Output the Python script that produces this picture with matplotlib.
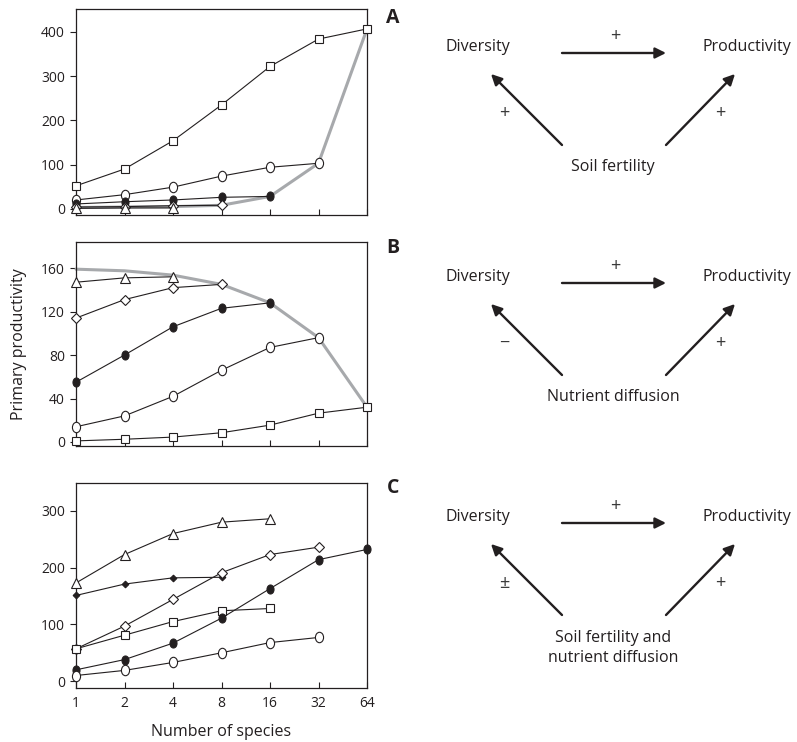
import numpy as np
import matplotlib.pyplot as plt
from matplotlib.markers import MarkerStyle
from matplotlib.transforms import Affine2D

plt.rcParams["font.family"] = ["Open Sans", "DejaVu Sans"]
INK = "#231f20"

species = [1, 2, 4, 8, 16, 32, 64]

# panel A: soil fertility gradient
a_square = [52, 90, 154, 235, 322, 384, 407]
a_open = [20, 32, 49, 74, 94, 103]
a_filled = [11, 16, 20, 26, 28]
a_diamond = [4, 5, 7, 8]
a_triangle = [1, 2, 2]
a_envelope = [3, 4, 5, 8, 28, 103, 407]

# panel B: nutrient diffusion
b_square = [1, 2.5, 4.5, 8.5, 15.5, 26.5, 32]
b_open = [14, 24, 42, 66, 87, 96]
b_filled = [55, 80, 106, 123, 128]
b_diamond = [114, 131, 142, 145]
b_triangle = [147, 151, 152]
b_envelope = [159, 157.5, 153.5, 145, 128, 96, 32]

# panel C: both processes
c_triangle = [173, 223, 260, 280, 286]
c_smalldiamond = [151, 171, 182, 183]
c_diamond = [57, 97, 144, 191, 223, 236]
c_square = [57, 81, 105, 124, 128]
c_filled = [20, 38, 67, 111, 163, 214, 232]
c_open = [10, 19, 33, 50, 68, 77]

oval = MarkerStyle("o", transform=Affine2D().scale(0.78, 1.0))
oval_f = MarkerStyle("o", transform=Affine2D().scale(0.78, 1.0))

STYLE = {
    "square": dict(marker="s", ms=5.2, mfc="white"),
    "open": dict(marker=oval, ms=7.5, mfc="white"),
    "filled": dict(marker=oval_f, ms=6.5, mfc=INK),
    "diamond": dict(marker="D", ms=4.6, mfc="white"),
    "triangle": dict(marker="^", ms=7.5, mfc="white"),
    "smalldiamond": dict(marker="D", ms=3.4, mfc=INK),
}

W, H = 797, 742
fig = plt.figure(figsize=(W / 100, H / 100), dpi=100)


def px_axes(top, bottom, left=76, right=367):
    return fig.add_axes([left / W, 1 - bottom / H, (right - left) / W, (bottom - top) / H])


def series(ax, values, kind):
    ax.plot(species[:len(values)], values, color=INK, lw=0.8, mec=INK, mew=0.8,
            clip_on=False, zorder=3, **STYLE[kind])


def envelope(ax, values):
    ax.plot(species[:len(values)], values, color="#a7a9ac", lw=2.2,
            clip_on=False, zorder=2, solid_capstyle="round")


def style_axes(ax, yticks, ylim, show_x):
    ax.set_xscale("log", base=2)
    ax.set_xlim(1, 64)
    ax.set_ylim(*ylim)
    ax.set_yticks(yticks)
    ax.set_xticks(species)
    ax.minorticks_off()
    if show_x:
        ax.set_xticklabels([str(s) for s in species])
    else:
        ax.set_xticklabels([])
    ax.tick_params(axis="y", direction="out", length=4, width=0.8, pad=4,
                   labelsize=10, colors=INK)
    ax.tick_params(axis="x", direction="in", length=4, width=0.8, pad=6,
                   labelsize=10, colors=INK)
    for side in ax.spines.values():
        side.set_linewidth(0.9)
        side.set_color(INK)


axA = px_axes(9, 215)
envelope(axA, a_envelope)
for vals, kind in [(a_square, "square"), (a_open, "open"), (a_filled, "filled"),
                   (a_diamond, "diamond"), (a_triangle, "triangle")]:
    series(axA, vals, kind)
style_axes(axA, [0, 100, 200, 300, 400], (-14, 452), False)

axB = px_axes(242, 446)
envelope(axB, b_envelope)
for vals, kind in [(b_square, "square"), (b_open, "open"), (b_filled, "filled"),
                   (b_diamond, "diamond"), (b_triangle, "triangle")]:
    series(axB, vals, kind)
style_axes(axB, [0, 40, 80, 120, 160], (-3.7, 184), False)
axB.set_ylabel("Primary productivity", fontsize=11.5, color=INK, labelpad=10)

axC = px_axes(483, 688)
for vals, kind in [(c_triangle, "triangle"), (c_smalldiamond, "smalldiamond"),
                   (c_diamond, "diamond"), (c_square, "square"),
                   (c_filled, "filled"), (c_open, "open")]:
    series(axC, vals, kind)
style_axes(axC, [0, 100, 200, 300], (-12, 349), True)
axC.set_xlabel("Number of species", fontsize=11.5, color=INK, labelpad=9)

# causal diagrams on the right, laid out in pixel coordinates
diag = fig.add_axes([0, 0, 1, 1])
diag.set_xlim(0, W)
diag.set_ylim(H, 0)
diag.axis("off")

panels = [
    ("A", 0, "Soil fertility", ("+", "+", "+")),
    ("B", 230, "Nutrient diffusion", ("+", "\u2212", "+")),
    ("C", 470, "Soil fertility and\nnutrient diffusion", ("+", "\u00b1", "+")),
]
arrow = dict(arrowstyle="-|>", lw=1.7, color=INK, mutation_scale=16,
             shrinkA=0, shrinkB=0)
SIGN = dict(fontsize=13, color="#3a3a3a", ha="center", va="center")
for letter, dy, driver, (s_top, s_left, s_right) in panels:
    diag.text(393, 18 + dy, letter, fontsize=14, fontweight="bold", color=INK,
              ha="center", va="center")
    diag.text(478, 47 + dy, "Diversity", fontsize=11.5, color=INK,
              ha="center", va="center")
    diag.text(747, 47 + dy, "Productivity", fontsize=11.5, color=INK,
              ha="center", va="center")
    diag.annotate("", xy=(666, 53 + dy), xytext=(562, 53 + dy), arrowprops=arrow)
    diag.annotate("", xy=(491, 74 + dy), xytext=(562, 145 + dy), arrowprops=arrow)
    diag.annotate("", xy=(735, 74 + dy), xytext=(666, 145 + dy), arrowprops=arrow)
    diag.text(615, 36 + dy, s_top, **SIGN)
    diag.text(504, 113 + dy, s_left, **SIGN)
    diag.text(720, 113 + dy, s_right, **SIGN)
    ny = 167 + dy if "\n" not in driver else 178 + dy
    diag.text(613, ny, driver, fontsize=11.5, color=INK, ha="center",
              va="center", linespacing=1.25)

fig.savefig("out.png", dpi=100)
